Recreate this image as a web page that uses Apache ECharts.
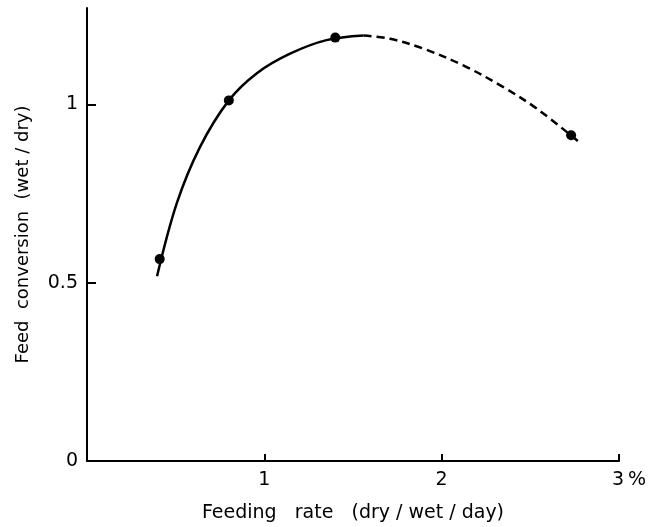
<!DOCTYPE html>
<html>
<head>
<meta charset="utf-8">
<script src="https://cdn.jsdelivr.net/npm/echarts@6/dist/echarts.min.js"></script>
<style>
html,body{margin:0;padding:0;background:#fff;}
#chart{width:648px;height:527px;}
</style>
</head>
<body>
<div id="chart"></div>
<script>
// measured points
var pointX=[0.41,0.80,1.40,2.73];
var pointY=[0.566,1.011,1.187,0.913];
// fitted curve, solid part
var solidX=[0.395,0.506,0.637,0.80,0.96,1.145,1.35,1.56];
var solidY=[0.518,0.722,0.880,1.011,1.088,1.142,1.180,1.193];
// extrapolated part (dashed)
var dashX=[1.56,1.709,1.897,2.122,2.348,2.536,2.781];
var dashY=[1.193,1.184,1.156,1.109,1.048,0.988,0.892];
var xTicks=[1,2,3];
var yTicks=[0,0.5,1];

function pairs(xs,ys){
	var out=[];
	for(var i=0;i<xs.length;i++){out.push([xs[i],ys[i]]);}
	return out;
}

var chart=echarts.init(document.getElementById("chart"));
var font='"DejaVu Sans", sans-serif';
var option={
	animation:false,
	grid:{left:87,right:29,top:8,bottom:66,containLabel:false,outerBoundsMode:'none'},
	xAxis:{
		type:'value',
		min:0,max:3,
		name:'Feeding   rate   (dry / wet / day)',
		nameLocation:'middle',
		nameGap:43,
		nameTextStyle:{color:'#000',fontSize:19,fontFamily:font},
		axisLine:{show:true,onZero:false,lineStyle:{color:'#000',width:2}},
		axisTick:{show:true,inside:true,length:7,customValues:xTicks,lineStyle:{color:'#000',width:2}},
		splitLine:{show:false},
		axisLabel:{
			customValues:xTicks,
			color:'#000',fontSize:19,fontFamily:font,margin:10,
			formatter:function(v){
				if(v===3){return '{p|3\u2009%}';}
				return String(v);
			},
			rich:{p:{color:'#000',fontSize:19,fontFamily:font,padding:[0,0,0,20]}}
		}
	},
	yAxis:{
		type:'value',
		min:0,max:1.27,
		name:'Feed  conversion  (wet / dry)',
		nameLocation:'middle',
		nameGap:55,
		nameRotate:90,
		nameTextStyle:{color:'#000',fontSize:18,fontFamily:font},
		axisLine:{show:true,lineStyle:{color:'#000',width:2}},
		axisTick:{show:true,inside:true,length:9,customValues:yTicks,lineStyle:{color:'#000',width:2}},
		splitLine:{show:false},
		axisLabel:{customValues:yTicks,color:'#000',fontSize:19,fontFamily:font,margin:9}
	},
	series:[{
		type:'line',
		data:pairs(solidX,solidY),
		smooth:0.35,
		showSymbol:false,
		lineStyle:{color:'#000',width:2.5,type:'solid'}
	},{
		type:'line',
		data:pairs(dashX,dashY),
		smooth:0.35,
		showSymbol:false,
		lineStyle:{color:'#000',width:2.5,type:[8,5]}
	},{
		type:'scatter',
		data:pairs(pointX,pointY),
		symbol:'circle',
		symbolSize:10,
		itemStyle:{color:'#000',opacity:1}
	}]
};
chart.setOption(option);
window.addEventListener("resize",function(){
	chart.resize();
});
</script>
</body>
</html>
